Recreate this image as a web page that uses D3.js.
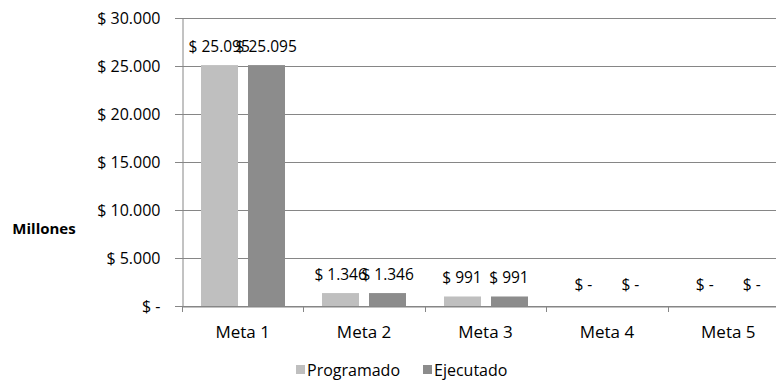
<!DOCTYPE html>
<html>
<head>
<meta charset="utf-8">
<script src="https://cdn.jsdelivr.net/npm/d3@7"></script>
<style>
  html, body { margin: 0; padding: 0; background: #fff; }
  svg text { font-family: "Open Sans", "Noto Sans", sans-serif; fill: #000; }
</style>
</head>
<body>
<svg id="chart" width="776" height="381"></svg>
<script>
// Presupuesto por meta (millones de pesos)
const categories = ["Meta 1", "Meta 2", "Meta 3", "Meta 4", "Meta 5"];
const programado = [25095, 1346, 991, 0, 0];
const ejecutado = [25095, 1346, 991, 0, 0];
const seriesNames = ["Programado", "Ejecutado"];
const yTicks = [0, 5000, 10000, 15000, 20000, 25000, 30000];

const colors = ["#bfbfbf", "#8c8c8c"];

const svg = d3.select("#chart");
const margin = { left: 182, right: -13, top: 18, bottom: 75 };
const W = 776, H = 381;

// Formato contable con separador de miles "."
const fmtNum = d3.formatLocale({ decimal: ",", thousands: ".", grouping: [3], currency: ["$", ""] }).format(",.0f");
const money = v => v === 0 ? "$ -" : "$ " + fmtNum(v);

const x = d3.scaleBand().domain(categories).range([margin.left, W - margin.right]);
const y = d3.scaleLinear().domain([0, 30000]).range([H - margin.bottom, margin.top]);

const series = seriesNames.map((name, i) => ({
  name, color: colors[i], values: i === 0 ? programado : ejecutado
}));

const barW = 37, gap = 10;
const groupW = barW * 2 + gap;

// Líneas de división horizontales
svg.append("g")
  .selectAll("line")
  .data(yTicks)
  .join("line")
  .attr("x1", margin.left - 7)
  .attr("x2", W)
  .attr("y1", d => Math.round(y(d)) + 0.5)
  .attr("y2", d => Math.round(y(d)) + 0.5)
  .attr("stroke", "#868686")
  .attr("stroke-width", 1);

// Eje Y
const yAxis = svg.append("g")
  .attr("transform", `translate(${margin.left + 0.5},0)`)
  .call(d3.axisLeft(y).tickValues(yTicks).tickFormat(money).tickSize(7).tickPadding(15));
yAxis.select(".domain").attr("stroke", "#868686");
yAxis.selectAll(".tick line").attr("stroke", "#868686");
yAxis.selectAll(".tick text").style("font-size", "16px").attr("fill", "#000");

// Eje X
const xAxis = svg.append("g")
  .attr("transform", `translate(0,${Math.round(y(0)) + 0.5})`)
  .call(d3.axisBottom(x).tickSize(0).tickPadding(0));
xAxis.select(".domain").attr("stroke", "#868686");
xAxis.selectAll(".tick text")
  .style("font-size", "17px")
  .attr("fill", "#000")
  .attr("y", 31)
  .attr("dy", null);

// Marcas de separación entre categorías
const bounds = categories.map(c => x(c)).concat([x.range()[1]]);
svg.append("g")
  .selectAll("line")
  .data(bounds)
  .join("line")
  .attr("x1", d => Math.round(d) + 0.5)
  .attr("x2", d => Math.round(d) + 0.5)
  .attr("y1", Math.round(y(0)))
  .attr("y2", Math.round(y(0)) + 6)
  .attr("stroke", "#868686");

// Barras y etiquetas de valor
series.forEach((s, i) => {
  const g = svg.append("g");
  const xPos = c => x(c) + x.bandwidth() / 2 - groupW / 2 + i * (barW + gap);
  g.selectAll("rect")
    .data(categories)
    .join("rect")
    .attr("x", c => Math.round(xPos(c)))
    .attr("width", barW)
    .attr("y", (c, k) => y(s.values[k]))
    .attr("height", (c, k) => y(0) - y(s.values[k]))
    .attr("fill", s.color);
  g.selectAll("text")
    .data(categories)
    .join("text")
    .attr("x", c => xPos(c) + barW / 2)
    .attr("y", (c, k) => y(s.values[k]) - (s.values[k] === 0 ? 16 : 13))
    .attr("text-anchor", "middle")
    .style("font-size", "15.5px")
    .text((c, k) => money(s.values[k]));
});

// Título del eje
svg.append("text")
  .attr("x", 44)
  .attr("y", 234)
  .attr("text-anchor", "middle")
  .style("font-size", "15px")
  .style("font-weight", "bold")
  .text("Millones");

// Leyenda
const legendPos = [296, 423];
const legend = svg.append("g");
series.forEach((s, i) => {
  legend.append("rect")
    .attr("x", legendPos[i])
    .attr("y", 365)
    .attr("width", 9)
    .attr("height", 9)
    .attr("fill", s.color);
  legend.append("text")
    .attr("x", legendPos[i] + 11)
    .attr("y", 376)
    .style("font-size", "16px")
    .text(s.name);
});
</script>
</body>
</html>
